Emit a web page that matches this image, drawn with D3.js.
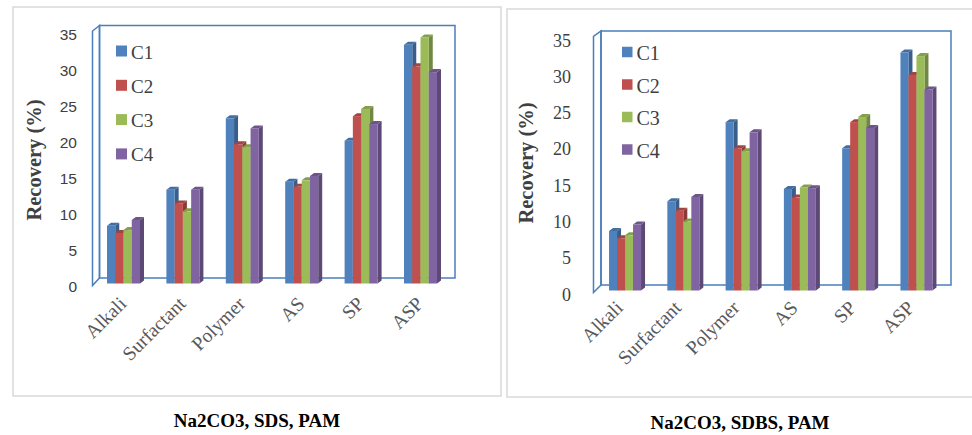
<!DOCTYPE html>
<html>
<head>
<meta charset="utf-8">
<script src="https://cdn.jsdelivr.net/npm/d3@7/dist/d3.min.js"></script>
<style>
  html, body { margin: 0; padding: 0; background: #fff; }
  svg { display: block; }
</style>
</head>
<body>
<svg id="chart" width="972" height="435"></svg>
<script>
// Oil recovery by flooding method, two chemical formulations
const categories = ["Alkali", "Surfactant", "Polymer", "AS", "SP", "ASP"];
const seriesNames = ["C1", "C2", "C3", "C4"];
const seriesColors = ["#4F81BD", "#C0504D", "#9BBB59", "#8064A2"];
const yTickValues = [0, 5, 10, 15, 20, 25, 30, 35];

// Na2CO3, SDS, PAM
const sdsC1 = [8.0, 13.0, 22.9, 14.1, 19.8, 33.1];
const sdsC2 = [7.0, 11.1, 19.3, 13.4, 23.2, 30.1];
const sdsC3 = [7.4, 10.0, 18.9, 14.3, 24.2, 34.1];
const sdsC4 = [8.8, 13.0, 21.5, 14.9, 22.1, 29.3];

// Na2CO3, SDBS, PAM
const sdbsC1 = [8.2, 12.3, 23.2, 14.0, 19.6, 32.8];
const sdbsC2 = [7.2, 11.0, 19.6, 12.8, 23.2, 29.7];
const sdbsC3 = [7.6, 9.5, 19.2, 14.2, 23.9, 32.3];
const sdbsC4 = [9.1, 12.9, 21.8, 14.1, 22.4, 27.7];

const panelTitles = ["Na2CO3, SDS, PAM", "Na2CO3, SDBS, PAM"];
const yTitle = "Recovery (%)";

const svg = d3.select("#chart");
const SERIF = "'Liberation Serif', 'Times New Roman', serif";
const SANS = "'Liberation Sans', Arial, sans-serif";
const wallColor = "#4A7EBB";

function drawPanel(cfg, series) {
  const g = svg.append("g");

  // panel frame
  g.append("rect")
    .attr("x", cfg.frame[0]).attr("y", cfg.frame[1])
    .attr("width", cfg.frame[2]).attr("height", cfg.frame[3])
    .attr("fill", "#fff").attr("stroke", "#D9D9D9").attr("stroke-width", 1.5);

  const y = d3.scaleLinear().domain([0, 35]).range([cfg.y0, cfg.yTop]);
  const x0 = d3.scaleBand().domain(categories).range(cfg.bandRange);
  const x1 = d3.scaleBand().domain(seriesNames).range([0, cfg.groupW]);
  const off = (x0.bandwidth() - cfg.groupW) / 2;

  // walls: side wall and back wall
  const fx = cfg.wallX, dx = cfg.dx, dy = cfg.dy;
  const topF = y(35), botF = cfg.y0 + 2;
  g.append("path")
    .attr("d", `M${fx},${botF} L${fx},${topF} L${fx + dx},${topF - dy} L${fx + dx},${cfg.y0 - dy} Z`)
    .attr("fill", "none").attr("stroke", wallColor).attr("stroke-width", 1.5);
  g.append("rect")
    .attr("x", fx + dx).attr("y", topF - dy)
    .attr("width", cfg.backRight - fx - dx).attr("height", cfg.y0 - topF)
    .attr("fill", "none").attr("stroke", wallColor).attr("stroke-width", 1.5);

  // y tick labels
  g.append("g").selectAll("text").data(yTickValues).join("text")
    .attr("x", cfg.tickX).attr("y", d => y(d) + cfg.tickDy)
    .attr("text-anchor", "end").attr("dominant-baseline", "central")
    .attr("font-family", cfg.tickFont).attr("font-size", cfg.tickSize)
    .attr("fill", "#404040").text(d => d);

  // 3D columns
  const bw = x1.bandwidth(), bdx = cfg.barDx, bdy = cfg.barDy;
  const bars = g.append("g");
  categories.forEach((cat, ci) => {
    seriesNames.forEach((s, si) => {
      const v = series[si][ci];
      const xl = x0(cat) + off + x1(s), xr = xl + bw;
      const yt = y(v), yb = y(0);
      const c = d3.color(seriesColors[si]);
      bars.append("path")
        .attr("d", `M${xr},${yb} L${xr},${yt} L${xr + bdx},${yt - bdy} L${xr + bdx},${yb - bdy} Z`)
        .attr("fill", c.darker(0.9));
      bars.append("path")
        .attr("d", `M${xl},${yt} L${xr},${yt} L${xr + bdx},${yt - bdy} L${xl + bdx},${yt - bdy} Z`)
        .attr("fill", c.darker(0.45));
      bars.append("rect")
        .attr("x", xl).attr("y", yt).attr("width", bw).attr("height", yb - yt)
        .attr("fill", c);
    });
  });

  // category labels
  g.append("g").selectAll("text").data(categories).join("text")
    .attr("transform", d => `translate(${x0(d) + x0.bandwidth() / 2 + cfg.labDx},${cfg.labY}) rotate(-45)`)
    .attr("text-anchor", "end")
    .attr("font-family", SERIF).attr("font-size", 19.5)
    .attr("fill", "#595959").text(d => d);

  // legend
  const lg = g.append("g");
  seriesNames.forEach((s, i) => {
    const cy = cfg.legY + i * cfg.legStep;
    lg.append("rect")
      .attr("x", cfg.legX).attr("y", cy - cfg.legSq / 2)
      .attr("width", cfg.legSq).attr("height", cfg.legSq)
      .attr("fill", seriesColors[i]);
    lg.append("text")
      .attr("x", cfg.legX + cfg.legSq + 4).attr("y", cy + 1)
      .attr("dominant-baseline", "central")
      .attr("font-family", SERIF).attr("font-size", cfg.legSize)
      .attr("fill", "#404040").text(s);
  });

  // axis title
  g.append("text")
    .attr("transform", `translate(${cfg.yTitlePos[0]},${cfg.yTitlePos[1]}) rotate(-90)`)
    .attr("text-anchor", "middle").attr("dominant-baseline", "central")
    .attr("font-family", SERIF).attr("font-weight", "bold").attr("font-size", 20.5)
    .attr("fill", "#404040").text(yTitle);

  // panel caption
  g.append("text")
    .attr("x", cfg.titlePos[0]).attr("y", cfg.titlePos[1])
    .attr("text-anchor", "middle")
    .attr("font-family", SERIF).attr("font-weight", "bold").attr("font-size", 19)
    .attr("fill", "#000").text(cfg.title);
}

drawPanel({
  frame: [13, 7, 488, 389],
  y0: 283.5, yTop: 31,
  bandRange: [93.8, 450.2], groupW: 33,
  wallX: 92.5, dx: 7, dy: 5.5, backRight: 455,
  barDx: 4, barDy: 3,
  tickX: 77, tickDy: 3, tickFont: SANS, tickSize: 15.5,
  labDx: 4, labY: 305,
  legX: 116, legY: 51, legStep: 34.3, legSq: 11, legSize: 19,
  yTitlePos: [33.5, 160],
  titlePos: [257, 427],
  title: panelTitles[0]
}, [sdsC1, sdsC2, sdsC3, sdsC4]);

drawPanel({
  frame: [507, 9, 470, 388],
  y0: 290.5, yTop: 36.5,
  bandRange: [595.9, 945.6], groupW: 32,
  wallX: 593.5, dx: 7.5, dy: 5.5, backRight: 951,
  barDx: 4, barDy: 3,
  tickX: 571, tickDy: 4, tickFont: SERIF, tickSize: 18,
  labDx: -1, labY: 309,
  legX: 622, legY: 52, legStep: 32.5, legSq: 10.5, legSize: 20,
  yTitlePos: [526, 163],
  titlePos: [740, 429],
  title: panelTitles[1]
}, [sdbsC1, sdbsC2, sdbsC3, sdbsC4]);
</script>
</body>
</html>
